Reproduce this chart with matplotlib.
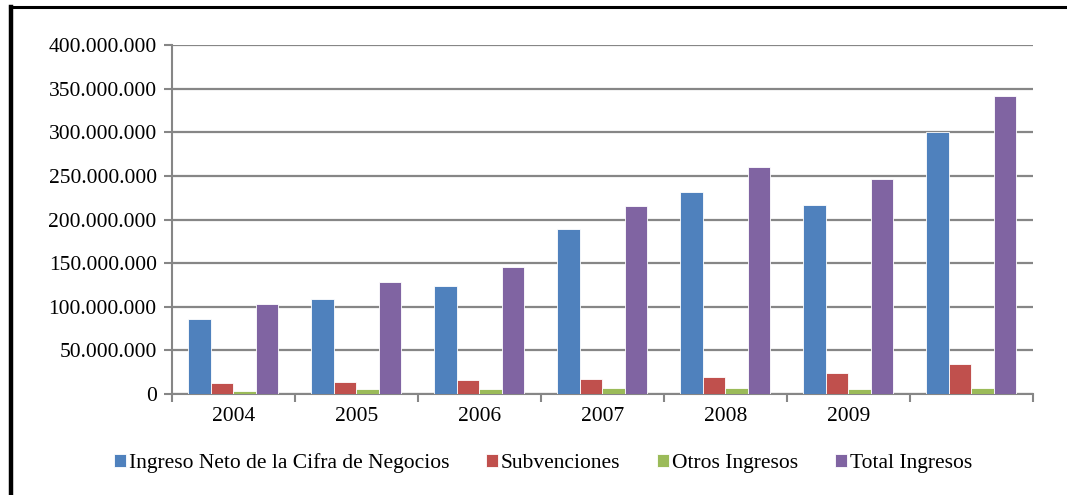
import numpy as np
import matplotlib
matplotlib.use("Agg")
import matplotlib.pyplot as plt
from matplotlib.lines import Line2D
from matplotlib.ticker import FuncFormatter

plt.rcParams["font.family"] = ["Liberation Serif", "DejaVu Serif"]

# datos
years = ["2004", "2005", "2006", "2007", "2008", "2009", ""]
ingreso_neto = [86e6, 109e6, 124e6, 189e6, 232e6, 217e6, 300e6]
subvenciones = [12.6e6, 13.8e6, 16e6, 17.5e6, 19.9e6, 23.7e6, 34.4e6]
otros_ingresos = [4e6, 5.7e6, 5.7e6, 6.9e6, 7e6, 5.7e6, 6.5e6]
total_ingresos = [103e6, 128e6, 146e6, 215e6, 260e6, 247e6, 342e6]

series = [
    ("Ingreso Neto de la Cifra de Negocios", ingreso_neto, "#4F81BD"),
    ("Subvenciones", subvenciones, "#C0504D"),
    ("Otros Ingresos", otros_ingresos, "#9BBB59"),
    ("Total Ingresos", total_ingresos, "#8064A2"),
]

fig = plt.figure(figsize=(10.67, 4.95), dpi=100)
ax = fig.add_axes([0.1612, 0.204, 0.8067, 0.705])

x = np.arange(len(years))
w = 0.183
for i, (name, vals, col) in enumerate(series):
    ax.bar(x + (i - 1.5) * w, vals, width=w, color=col, label=name,
           edgecolor="white", linewidth=0.6, zorder=3)

ax.set_xlim(-0.5, len(years) - 0.5)
ax.set_ylim(0, 400e6)
ax.set_yticks(np.arange(0, 400e6 + 1, 50e6))
ax.yaxis.set_major_formatter(FuncFormatter(lambda v, p: f"{int(v):,}".replace(",", ".")))
ax.set_xticks(x)
ax.set_xticklabels(years)
ax.set_xticks(np.arange(-0.5, len(years)), minor=True)
ax.tick_params(axis="x", which="major", length=0, pad=9, labelsize=15.5)
ax.tick_params(axis="x", which="minor", length=6, color="#868686", width=1.5, direction="out")
ax.tick_params(axis="y", length=6, color="#868686", width=1.5, labelsize=15.5, pad=5)

ax.grid(axis="y", color="#868686", linewidth=1.6, zorder=0)
for s in ["top", "right"]:
    ax.spines[s].set_visible(False)
for s in ["left", "bottom"]:
    ax.spines[s].set_color("#868686")
    ax.spines[s].set_linewidth(1.5)

fig.legend(loc="center", bbox_to_anchor=(543 / 1067, 1 - 463 / 495), ncol=4,
           frameon=False, fontsize=15.5, handlelength=0.55, handleheight=0.55,
           handletextpad=0.15, columnspacing=1.7)

# marco negro (izquierda y arriba)
fig.add_artist(Line2D([11 / 1067, 11 / 1067], [0, 1 - 7 / 495], color="black", linewidth=3.2))
fig.add_artist(Line2D([10 / 1067, 1], [1 - 7 / 495, 1 - 7 / 495], color="black", linewidth=2.2))

fig.savefig("out.png", dpi=100)
